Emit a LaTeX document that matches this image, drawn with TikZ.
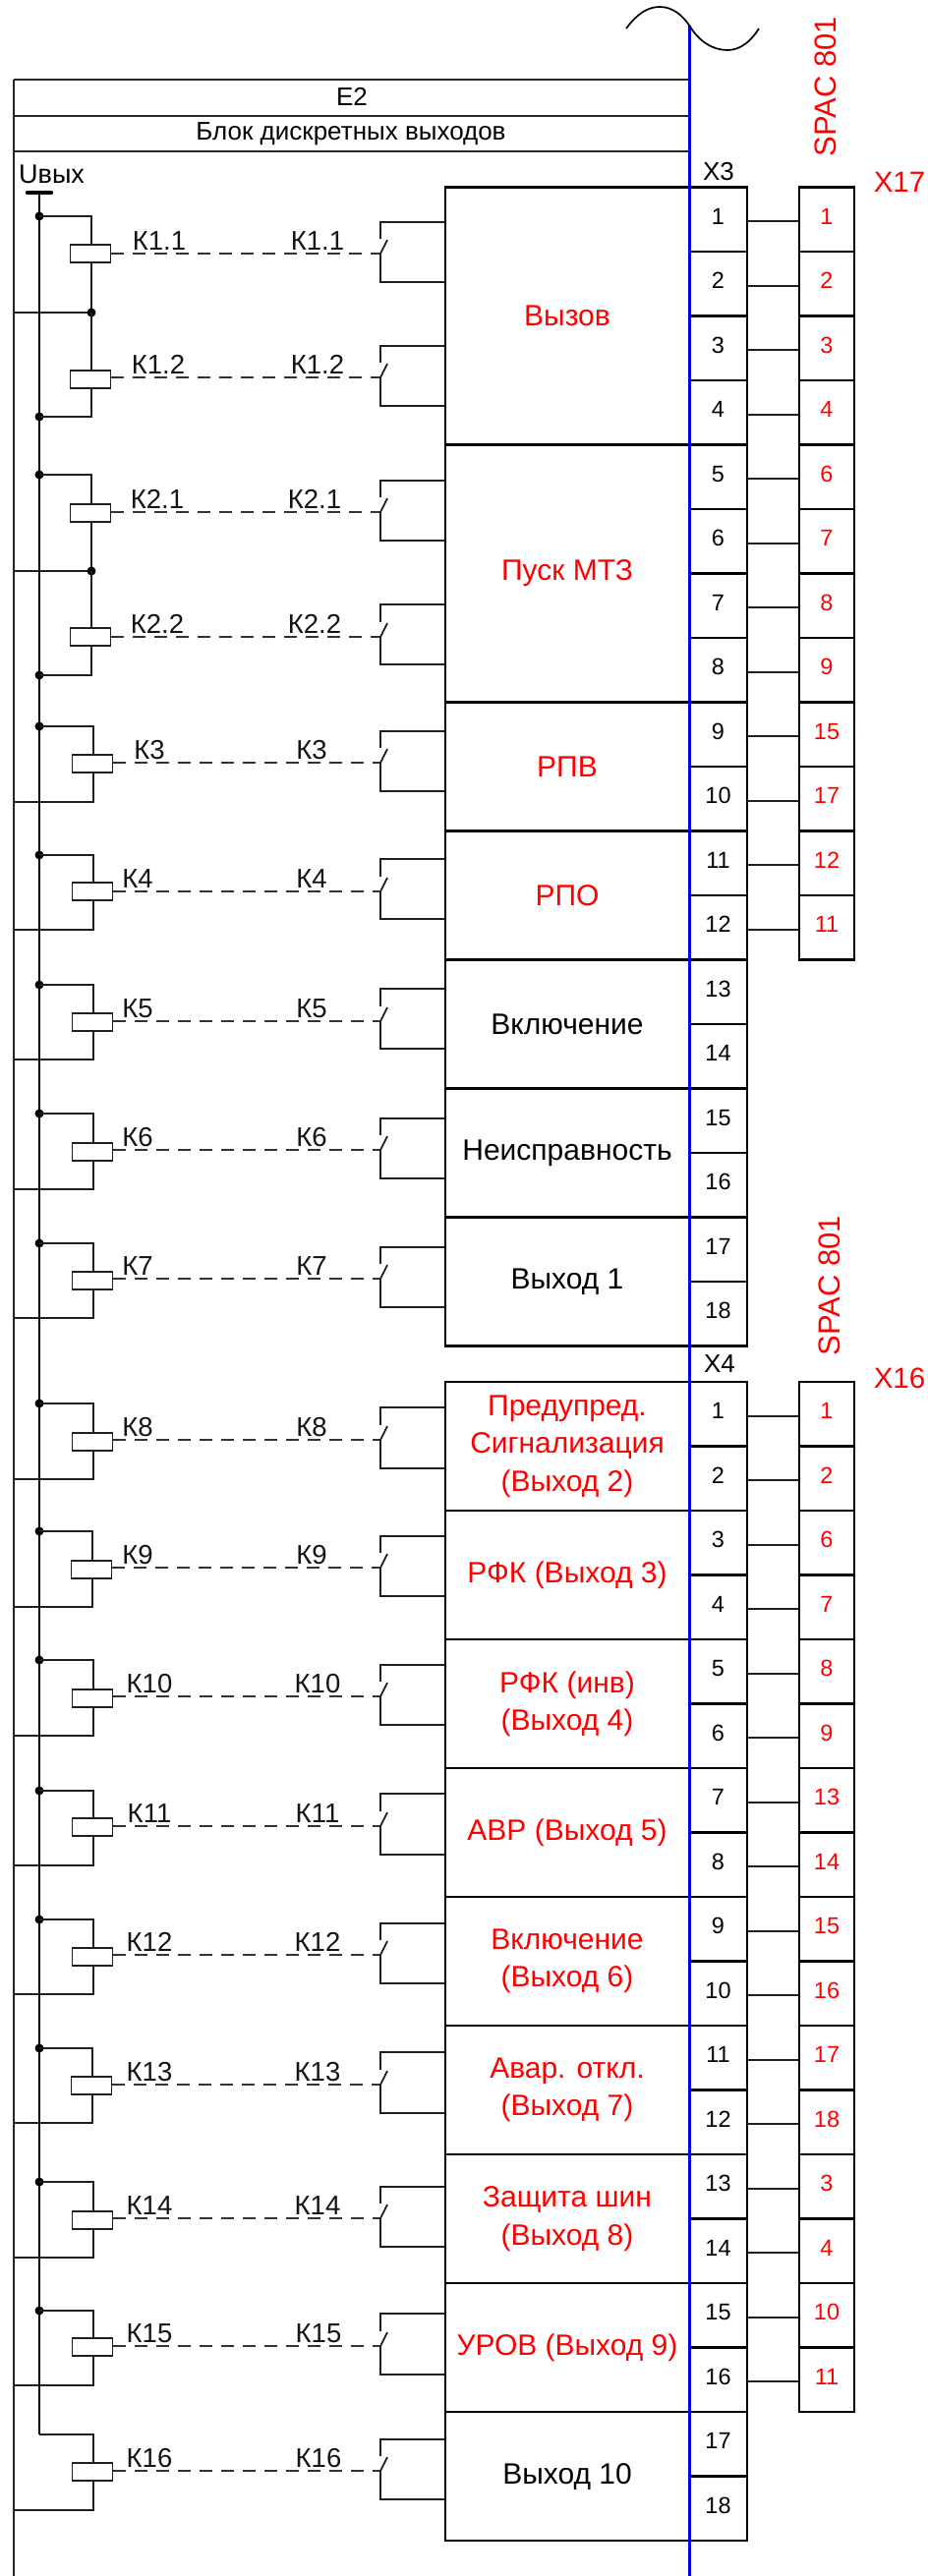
\documentclass[tikz,border=0pt]{standalone}
\usepackage{fontspec}
\setmainfont{Liberation Sans}
\tikzset{
  wire/.style={line width=1.8pt,draw=black!88},
  dashln/.style={line width=1.8pt,draw=black!80,dash pattern=on 13pt off 9pt},
  dotn/.style={circle,fill=black,draw=none,inner sep=0pt,minimum size=9pt},
  nodot/.style={inner sep=0pt,minimum size=0pt},
  coil/.style={rectangle,draw=black!88,line width=1.8pt,fill=white,minimum width=41pt,minimum height=18pt,inner sep=0pt},
  klab/.style={font=\fontsize{27.5}{30}\selectfont,anchor=base,inner sep=0pt,text=black!92},
  blockbox/.style={rectangle,draw=black,line width=2.6pt,minimum width=248pt,inner sep=0pt,outer sep=0pt,align=center,font=\fontsize{30}{38.5}\selectfont},
  termcell/.style={rectangle,draw=black,line width=2.8pt,minimum width=59pt,minimum height=65.5pt,inner sep=0pt,outer sep=0pt},
  extcell/.style={rectangle,draw=black,line width=2.8pt,minimum width=56pt,minimum height=65.5pt,inner sep=0pt,outer sep=0pt},
  numtxt/.style={font=\fontsize{23.5}{26}\selectfont,inner sep=0pt},
  hdr/.style={font=\fontsize{26}{30}\selectfont,inner sep=0pt},
  bigred/.style={font=\fontsize{29.5}{32}\selectfont,text=red,inner sep=0pt},
  hline/.style={line width=2.2pt,draw=black!85}
}
\begin{document}
\begin{tikzpicture}[x=1pt,y=-1pt]
\useasboundingbox (0,0) rectangle (943,2621);
\fill[white] (0,0) rectangle (943,2621);

% frame and header
\coordinate (railtop) at (14,81);
\coordinate (railbot) at (14,2621);
\coordinate (headR) at (701,81);
\draw[hline] (railtop) -- (railbot);
\draw[hline] (railtop) -- (headR);
\coordinate (h2L) at (14,118); \coordinate (h2R) at (701,118);
\coordinate (h3L) at (14,154); \coordinate (h3R) at (701,154);
\draw[hline] (h2L) -- (h2R);
\draw[hline] (h3L) -- (h3R);
\node[hdr] (e2) at (358,98) {E2};
\node[hdr] (title) at (357,136) {Блок дискретных выходов};

% supply bus
\node[hdr,anchor=base west,font=\fontsize{27}{30}\selectfont] (uout) at (19,186) {Uвых};
\coordinate (barL) at (28,196); \coordinate (barR) at (52,196);
\coordinate (bustop) at (40,196); \coordinate (busbot) at (40,2477);
\draw[line width=4.5pt,line cap=round] (barL) -- (barR);
\draw[line width=2pt] (bustop) -- (busbot);

% output blocks
\foreach \nm/\tp/\rw/\col/\txt in {
  b1/190.5/4/red/{Вызов},
  b2/452.5/4/red/{Пуск МТЗ},
  b3/714.5/2/red/{РПВ},
  b4/845.5/2/red/{РПО},
  b5/976.5/2/black/{Включение},
  b6/1107.5/2/black/{Неисправность},
  b7/1238.5/2/black/{Выход 1},
  b8/1406/2/red/{Предупред.\\Сигнализация\\(Выход 2)},
  b9/1537/2/red/{РФК (Выход 3)},
  b10/1668/2/red/{РФК (инв)\\(Выход 4)},
  b11/1799/2/red/{АВР (Выход 5)},
  b12/1930/2/red/{Включение\\(Выход 6)},
  b13/2061/2/red/{Авар. откл.\\(Выход 7)},
  b14/2192/2/red/{Защита шин\\(Выход 8)},
  b15/2323/2/red/{УРОВ (Выход 9)},
  b16/2454/2/black/{Выход 10}}{
  \pgfmathsetmacro{\hh}{65.5*\rw}
  \pgfmathsetmacro{\yc}{\tp+\hh/2}
  \node[blockbox,text=\col,minimum height=\hh pt] (\nm) at (577,\yc) {\txt};
}

% X3 terminals
\foreach \i in {1,...,18}{
  \pgfmathsetmacro{\yc}{190.5+65.5*(\i-1)+32.75}
  \node[termcell] (ta\i) at (730.5,\yc) {};
  \node[numtxt,yshift=3pt] (tal\i) at (ta\i.center) {\i};
}
% X4 terminals
\foreach \i in {1,...,18}{
  \pgfmathsetmacro{\yc}{1406+65.5*(\i-1)+32.75}
  \node[termcell] (tb\i) at (730.5,\yc) {};
  \node[numtxt,yshift=3pt] (tbl\i) at (tb\i.center) {\i};
}
% X17 box
\foreach \v [count=\i] in {1,2,3,4,6,7,8,9,15,17,12,11}{
  \pgfmathsetmacro{\yc}{190.5+65.5*(\i-1)+32.75}
  \node[extcell] (xa\i) at (841,\yc) {};
  \node[numtxt,text=red,yshift=3pt] (xal\i) at (xa\i.center) {\v};
  \draw[wire] ([yshift=-2pt]ta\i.east) -- ([yshift=-2pt]xa\i.west);
}
% X16 box
\foreach \v [count=\i] in {1,2,6,7,8,9,13,14,15,16,17,18,3,4,10,11}{
  \pgfmathsetmacro{\yc}{1406+65.5*(\i-1)+32.75}
  \node[extcell] (xb\i) at (841,\yc) {};
  \node[numtxt,text=red,yshift=3pt] (xbl\i) at (xb\i.center) {\v};
  \draw[wire] ([yshift=-2pt]tb\i.east) -- ([yshift=-2pt]xb\i.west);
}

% relays
\foreach \lab/\dy/\cT/\dS/\bY/\cA/\cB/\lX/\rX/\cX/\tX/\bX/\tD/\bD/\blk [count=\n] in {
  К1.1/220/249/258/318/226/287/162/323/93/40/14/dotn/nodot/b1,
  К1.2/318/377/384/424/352/413/161/323/93/93/40/dotn/dotn/b1,
  К2.1/483/513/521/581/489/550/160/320/93/40/14/dotn/nodot/b2,
  К2.2/581/639/648/687/615/676/160/320/93/93/40/dotn/dotn/b2,
  К3/739/768/776/816/744/805/152/317/95/40/14/dotn/nodot/b3,
  К4/870/898/907/946/874/935/140/317/95/40/14/dotn/nodot/b4,
  К5/1002/1031/1039/1078/1006/1067/140/317/95/40/14/dotn/nodot/b5,
  К6/1133/1163/1170/1210/1138/1199/140/317/95/40/14/dotn/nodot/b6,
  К7/1265/1294/1301/1341/1269/1330/140/317/95/40/14/dotn/nodot/b7,
  К8/1428/1458/1465/1505/1432/1494/140/317/95/40/14/dotn/nodot/b8,
  К9/1558/1588/1595/1635/1563/1624/140/317/94/40/14/dotn/nodot/b9,
  К10/1689/1719/1726/1766/1694/1755/152/323/95/40/14/dotn/nodot/b10,
  К11/1822/1850/1858/1898/1825/1887/152/323/95/40/14/dotn/nodot/b11,
  К12/1953/1982/1989/2029/1957/2018/152/323/95/40/14/dotn/nodot/b12,
  К13/2084/2113/2121/2160/2088/2150/152/323/94/40/14/dotn/nodot/b13,
  К14/2220/2250/2257/2297/2225/2286/152/323/95/40/14/dotn/nodot/b14,
  К15/2351/2379/2387/2427/2354/2416/152/324/95/40/14/dotn/nodot/b15,
  К16/2477/2506/2514/2554/2482/2543/152/324/95/40/14/nodot/nodot/b16}{
  \coordinate (tp\n) at (\cX,\dy);
  \coordinate (bo\n) at (\cX,\bY);
  \node[\tD] (dt\n) at (\tX,\dy) {};
  \node[\bD] (db\n) at (\bX,\bY) {};
  \draw[wire] (dt\n.center) -- (tp\n) -- (bo\n) -- (db\n.center);
  \pgfmathsetmacro{\cY}{\cT+9}
  \node[coil] (coil\n) at (\cX-1,\cY) {};
  \coordinate (sw\n) at (387,\dS);
  \coordinate (ca\n) at (387,\cA);
  \coordinate (cb\n) at (387,\cB);
  \coordinate (bl\n) at (394,\dS-14);
  \coordinate (up\n) at (387,\dS-15);
  \draw[dashln] (coil\n.east |- sw\n) -- (sw\n);
  \draw[wire] (\blk.west |- ca\n) -- (ca\n) -- (up\n);
  \draw[wire] (\blk.west |- cb\n) -- (cb\n) -- (sw\n) -- (bl\n);
  \node[klab] (la\n) at (\lX,\dS-4) {\lab};
  \node[klab] (lb\n) at (\rX,\dS-4) {\lab};
}

% labels at the connectors
\node[hdr] (x3) at (731,175) {X3};
\node[hdr] (x4) at (732,1388) {X4};
\node[bigred] (x17) at (915,185) {X17};
\node[bigred] (x16) at (915,1402) {X16};
\node[bigred,rotate=90,font=\fontsize{31}{32}\selectfont] (sp1) at (840,88) {SPAC 801};
\node[bigred,rotate=90,font=\fontsize{31}{32}\selectfont] (sp2) at (844,1308) {SPAC 801};

% blue divider and break mark
\coordinate (blueT) at (701,26);
\coordinate (blueB) at (701,2621);
\draw[line width=3pt,draw=blue!90!black] (blueT) -- (blueB);
\coordinate (s0) at (637,29); \coordinate (s1) at (671,7);
\coordinate (s2) at (702,27); \coordinate (s3) at (740,51);
\coordinate (s4) at (772,29);
\draw[line width=1.7pt] (s0) .. controls (648,14) and (659,7) .. (s1)
  .. controls (684,7) and (694,15) .. (s2)
  .. controls (711,42) and (725,51) .. (s3)
  .. controls (753,51) and (764,42) .. (s4);
\end{tikzpicture}
\end{document}
